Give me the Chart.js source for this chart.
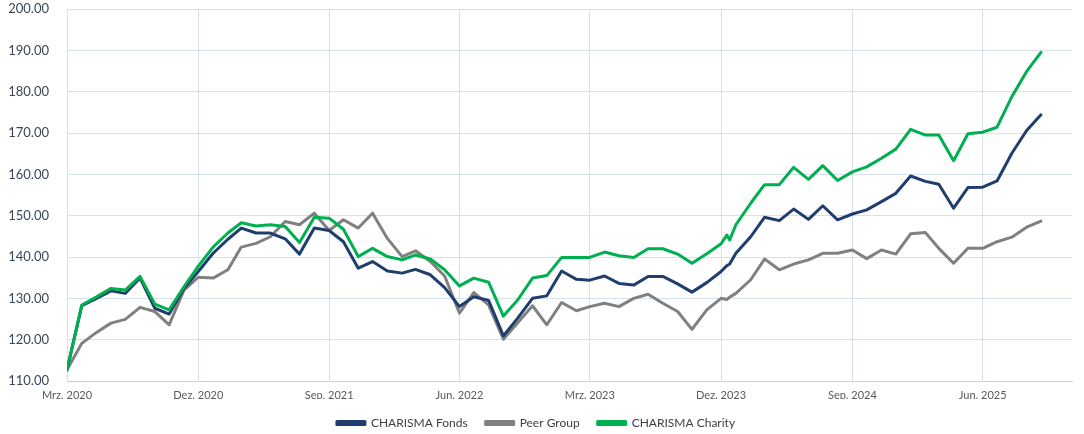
<!DOCTYPE html>
<html>
<head>
<meta charset="utf-8">
<script src="https://cdn.jsdelivr.net/npm/chart.js@4"></script>
<style>
html,body{margin:0;padding:0;background:#fff;}
#wrap{width:1084px;height:434px;position:relative;}
</style>
</head>
<body>
<div id="wrap"><canvas id="c"></canvas></div>
<script>
// Observation dates (month values plus two intra-month points in Dec 2023)
const dates = [
 "2020-03","2020-04","2020-05","2020-06","2020-07","2020-08","2020-09","2020-10","2020-11","2020-12",
 "2021-01","2021-02","2021-03","2021-04","2021-05","2021-06","2021-07","2021-08","2021-09",
 "2021-10","2021-11","2021-12","2022-01","2022-02","2022-03","2022-04","2022-05","2022-06",
 "2022-07","2022-08","2022-09","2022-10","2022-11","2022-12","2023-01","2023-02","2023-03",
 "2023-04","2023-05","2023-06","2023-07","2023-08","2023-09","2023-10","2023-11","2023-12",
 "2023-12-13","2023-12-19",
 "2024-01","2024-02","2024-03","2024-04","2024-05","2024-06","2024-07","2024-08","2024-09","2024-10",
 "2024-11","2024-12","2025-01","2025-02","2025-03","2025-04","2025-05","2025-06","2025-07","2025-08","2025-09","2025-10"
];

const charismaFonds = [
 112.7,128.2,129.9,131.8,131.2,134.9,127.6,126.2,132.4,136.5,
 140.9,144.3,147.0,145.8,145.8,144.4,140.7,147.0,146.4,
 143.7,137.3,138.9,136.6,136.1,137.0,135.7,132.6,128.0,
 130.4,129.5,120.9,125.2,130.0,130.6,136.6,134.6,134.4,
 135.4,133.6,133.2,135.3,135.3,133.5,131.5,133.8,136.5,
 137.9,138.3,
 140.9,144.9,149.6,148.8,151.6,149.1,152.4,149.0,150.4,151.4,
 153.4,155.4,159.6,158.3,157.6,151.8,156.8,156.9,158.4,165.1,170.6,174.4
];

const peerGroup = [
 112.7,119.1,121.7,124.0,124.9,127.8,126.8,123.6,132.0,135.1,
 134.9,136.9,142.4,143.3,144.9,148.6,147.8,150.6,146.4,
 149.0,147.0,150.6,144.5,140.1,141.5,138.9,135.4,126.4,
 131.4,128.4,120.1,124.1,128.2,123.6,129.0,127.0,128.0,
 128.8,128.0,130.0,131.0,128.8,126.8,122.5,127.2,130.0,
 129.7,130.3,
 131.2,134.5,139.5,136.9,138.3,139.3,140.9,140.9,141.7,139.6,
 141.7,140.7,145.6,145.9,142.1,138.5,142.1,142.1,143.7,144.8,147.2,148.7
];

const charismaCharity = [
 112.7,128.4,130.3,132.4,132.0,135.3,128.6,127.2,132.8,137.8,
 142.4,145.8,148.3,147.5,147.8,147.4,143.5,149.6,149.4,
 146.7,140.1,142.1,140.1,139.3,140.5,139.5,136.9,133.0,
 134.9,133.9,125.7,129.6,134.9,135.5,139.9,139.9,139.9,
 141.2,140.3,139.9,142.0,142.0,140.7,138.5,140.8,143.2,
 145.3,144.1,
 147.8,153.0,157.5,157.5,161.7,158.8,162.1,158.5,160.6,161.8,
 163.9,166.1,170.9,169.5,169.5,163.3,169.8,170.2,171.4,178.8,184.9,189.5
];

const tickDates  = ["2020-03","2020-12","2021-09","2022-06","2023-03","2023-12","2024-09","2025-06"];
const tickLabels = ["Mrz. 2020","Dez. 2020","Sep. 2021","Jun. 2022","Mrz. 2023","Dez. 2023","Sep. 2024","Jun. 2025"];
const axisStart = "2020-03";
const axisEnd = "2025-12-05";

function dayNum(s){
  const p = s.split("-").map(Number);
  return Date.UTC(p[0], p[1]-1, p[2] || 1) / 86400000;
}
const d0 = dayNum(axisStart);
const xs = dates.map(d => dayNum(d) - d0);
const tickX = tickDates.map(d => dayNum(d) - d0);
const pts = arr => arr.map((v,i) => ({x: xs[i], y: v}));

const FONT = "Lato, 'Open Sans', sans-serif";

const legendFit = {
  id: 'legendFit',
  afterInit(chart){
    const lg = chart.legend;
    if (!lg) return;
    const orig = lg.fit;
    lg.fit = function(){ orig.call(this); this.height = 33; };
  }
};

new Chart(document.getElementById('c'), {
  type: 'line',
  plugins: [legendFit],
  data: {
    datasets: [
      {label:'CHARISMA Fonds', data: pts(charismaFonds), borderColor:'#1f3e6e', backgroundColor:'#1f3e6e', order:1},
      {label:'Peer Group', data: pts(peerGroup), borderColor:'#808080', backgroundColor:'#808080', order:2},
      {label:'CHARISMA Charity', data: pts(charismaCharity), borderColor:'#00b050', backgroundColor:'#00b050', order:0}
    ]
  },
  options: {
    responsive: true,
    maintainAspectRatio: false,
    animation: false,
    elements: {
      line: {borderWidth: 3, tension: 0, borderJoinStyle: 'round', borderCapStyle:'round'},
      point: {radius: 0, hoverRadius: 0}
    },
    layout: {padding: {top: 9, right: 12, bottom: 2, left: 0}},
    plugins: {
      tooltip: {enabled: false},
      legend: {
        position: 'bottom',
        labels: {
          boxWidth: 28, boxHeight: 3, padding: 18,
          color: '#404040',
          font: {family: FONT, size: 12},
          sort: (a, b) => a.datasetIndex - b.datasetIndex
        }
      }
    },
    scales: {
      x: {
        type: 'linear',
        min: 0,
        max: dayNum(axisEnd) - d0,
        afterBuildTicks: s => { s.ticks = tickX.map(v => ({value: v})); },
        afterFit: s => { s.height = 18; },
        grid: {color: '#d6e1ee', drawTicks: false, lineWidth: 1},
        border: {color: '#d0d4da'},
        ticks: {
          autoSkip: false, maxRotation: 0, padding: 8,
          color: '#595959', font: {family: FONT, size: 11},
          callback: v => { const i = tickX.indexOf(v); return i >= 0 ? tickLabels[i] : ''; }
        }
      },
      y: {
        min: 110, max: 200,
        afterFit: s => { s.width = 67; s.paddingTop = 0; s.paddingBottom = 0; },
        grid: {color: '#d6e1ee', drawTicks: false, lineWidth: 1},
        border: {display: false},
        ticks: {
          stepSize: 10, padding: 18,
          color: '#3b4656', font: {family: FONT, size: 13},
          callback: v => Number(v).toFixed(2)
        }
      }
    }
  }
});
</script>
</body>
</html>
